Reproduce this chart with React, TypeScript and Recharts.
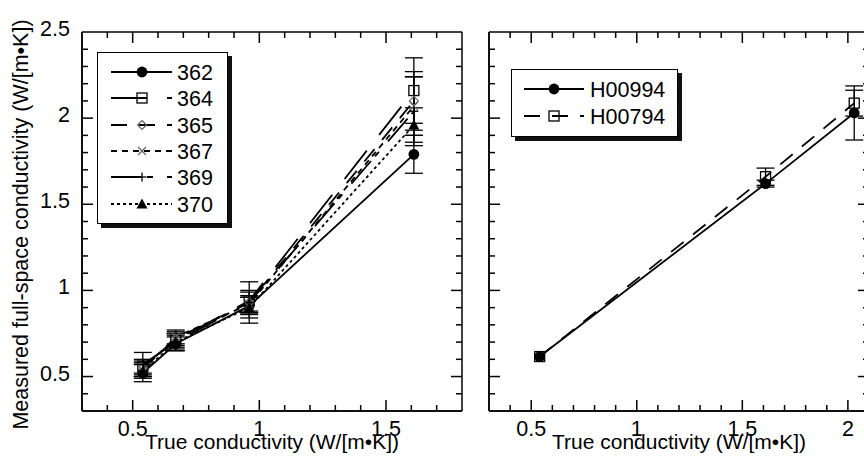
import React from 'react';
import { LineChart, Line, XAxis, YAxis, ErrorBar, Legend, ReferenceLine } from 'recharts';

const FONT = '"Liberation Sans", Arial, Helvetica, sans-serif';

// ---------- Panel A data ----------
const trueA = [0.54, 0.67, 0.96, 1.61];
const names = ['362', '364', '365', '367', '369', '370'];
const v362 = [0.52, 0.69, 0.91, 1.79];
const e362 = [0.05, 0.04, 0.05, 0.11];
const v364 = [0.56, 0.71, 0.94, 2.16];
const e364 = [0.04, 0.04, 0.06, 0.19];
const v365 = [0.55, 0.72, 0.93, 2.1];
const e365 = [0.04, 0.04, 0.06, 0.17];
const v367 = [0.54, 0.73, 0.92, 2.07];
const e367 = [0.04, 0.04, 0.05, 0.17];
const v369 = [0.57, 0.7, 0.93, 2.04];
const e369 = [0.07, 0.05, 0.12, 0.2];
const v370 = [0.53, 0.7, 0.9, 1.96];
const e370 = [0.04, 0.04, 0.06, 0.1];

// ---------- Panel B data ----------
const trueB = [0.54, 1.61, 2.03];
const namesB = ['H00994', 'H00794'];
const vH00994 = [0.616, 1.62, 2.03];
const eH00994 = [0, 0.02, 0.157];
const vH00794 = [0.616, 1.66, 2.087];
const eH00794 = [0, 0.05, 0.075];

// ---------- ticks ----------
const xTicksA = [0.4, 0.5, 0.6, 0.7, 0.8, 0.9, 1, 1.1, 1.2, 1.3, 1.4, 1.5, 1.6, 1.7];
const xTicksB = [0.4, 0.5, 0.6, 0.7, 0.8, 0.9, 1, 1.1, 1.2, 1.3, 1.4, 1.5, 1.6, 1.7, 1.8, 1.9, 2];
const yTicks = [0.4, 0.5, 0.6, 0.7, 0.8, 0.9, 1, 1.1, 1.2, 1.3, 1.4, 1.5, 1.6, 1.7, 1.8, 1.9, 2, 2.1, 2.2, 2.3, 2.4, 2.5];
const xDomainA = [0.3, 1.8];
const xDomainB = [0.3, 2.1];
const yDomain = [0.3, 2.5];

const xTitle = 'True conductivity (W/[m•K])';
const yTitle = 'Measured full-space conductivity (W/[m•K])';

type Kind = 'circle' | 'square' | 'diamond' | 'x' | 'plus' | 'triangle';

const build = (xs: number[], ys: number[], es: number[]) => xs.map((x, i) => ({ x, y: ys[i], err: es[i] }));

const seriesA: { name: string; data: any[]; dash?: string; kind: Kind }[] = [
  { name: names[0], data: build(trueA, v362, e362), dash: undefined, kind: 'circle' },
  { name: names[1], data: build(trueA, v364, e364), dash: '36 20', kind: 'square' },
  { name: names[2], data: build(trueA, v365, e365), dash: '16 12', kind: 'diamond' },
  { name: names[3], data: build(trueA, v367, e367), dash: '6 5', kind: 'x' },
  { name: names[4], data: build(trueA, v369, e369), dash: '30 6 6 14', kind: 'plus' },
  { name: names[5], data: build(trueA, v370, e370), dash: '3 3', kind: 'triangle' },
];

const seriesB: { name: string; data: any[]; dash?: string; kind: Kind }[] = [
  { name: namesB[0], data: build(trueB, vH00994, eH00994), dash: undefined, kind: 'circle' },
  { name: namesB[1], data: build(trueB, vH00794, eH00794), dash: '16 12', kind: 'square' },
];

function Marker({ kind, cx, cy }: { kind: Kind; cx: number; cy: number }) {
  if (cx == null || cy == null || isNaN(cx) || isNaN(cy)) return null;
  switch (kind) {
    case 'circle':
      return <circle cx={cx} cy={cy} r={5.4} fill="#000" />;
    case 'square':
      return <rect x={cx - 5} y={cy - 5} width={10} height={10} fill="none" stroke="#000" strokeWidth={1.3} />;
    case 'diamond':
      return (
        <path
          d={`M${cx},${cy - 4.5}L${cx + 4.5},${cy}L${cx},${cy + 4.5}L${cx - 4.5},${cy}Z`}
          fill="none"
          stroke="#666"
          strokeWidth={1.2}
        />
      );
    case 'x':
      return (
        <g>
          <line x1={cx - 4} y1={cy - 4} x2={cx + 4} y2={cy + 4} stroke="#666" strokeWidth={1.2} />
          <line x1={cx - 4} y1={cy + 4} x2={cx + 4} y2={cy - 4} stroke="#666" strokeWidth={1.2} />
        </g>
      );
    case 'plus':
      return (
        <g>
          <line x1={cx - 4.5} y1={cy} x2={cx + 4.5} y2={cy} stroke="#000" strokeWidth={1.3} />
          <line x1={cx} y1={cy - 4.5} x2={cx} y2={cy + 4.5} stroke="#000" strokeWidth={1.3} />
        </g>
      );
    case 'triangle':
      return <path d={`M${cx},${cy - 5.5}L${cx + 5.5},${cy + 4.5}L${cx - 5.5},${cy + 4.5}Z`} fill="#000" />;
  }
  return null;
}

const isMajor = (v: number) => Math.abs(v * 2 - Math.round(v * 2)) < 1e-6;
const fmt = (v: number) => (Math.abs(v - Math.round(v)) < 1e-6 ? String(Math.round(v)) : String(v));

const MINOR = 6;
const MAJOR = 11;
const TOP = 32;
const BOTTOM_H = 49;
const CH = 460;

const makeTick = (side: 'bottom' | 'left', labels: boolean) => (props: any) => {
  const x = Number(props.x);
  const y = Number(props.y);
  const v = Number(props.payload?.value);
  if (!labels || !isMajor(v)) return <g />;
  if (side === 'bottom')
    return (
      <text x={x} y={y + 25} textAnchor="middle" fontSize={21.5} fontFamily={FONT} fill="#000" stroke="none">
        {fmt(v)}
      </text>
    );
  return (
    <text x={x - 12} y={y + 4} textAnchor="end" fontSize={21.5} fontFamily={FONT} fill="#000" stroke="none">
      {fmt(v)}
    </text>
  );
};

const axisLine = { stroke: '#000', strokeWidth: 1.5 };

function LegendBox({ items, width, height, rows, x0, x1, xm, xt }: any) {
  return (
    <div
      style={{
        width,
        height,
        boxSizing: 'border-box',
        border: '1.5px solid #000',
        background: '#fff',
        boxShadow: '4px 4px 0 #111',
      }}
    >
      <svg width={width - 3} height={height - 3} style={{ display: 'block' }}>
        {items.map((s: any, i: number) => {
          const cy = rows[i];
          return (
            <g key={s.name}>
              <line x1={x0} y1={cy} x2={x1} y2={cy} stroke="#000" strokeWidth={1.8} strokeDasharray={s.dash} />
              <Marker kind={s.kind} cx={xm} cy={cy} />
              <text x={xt} y={cy + 7.5} fontSize={21.5} fontFamily={FONT} fill="#000">
                {s.name}
              </text>
            </g>
          );
        })}
      </svg>
    </div>
  );
}

function Panel({
  series,
  xDomain,
  xTicks,
  width,
  leftWidth,
  rightMargin,
  letter,
  showYLabels,
  legend,
}: any) {
  const [x0, x1] = xDomain;
  const [y0, y1] = yDomain;
  const tickSeries = [
    { k: 'tb', dir: [0, -1], data: xTicks.map((v: number) => ({ x: v, y: y0, v })) },
    { k: 'tt', dir: [0, 1], data: xTicks.map((v: number) => ({ x: v, y: y1, v })) },
    { k: 'tl', dir: [1, 0], data: yTicks.filter((v) => v < y1).map((v) => ({ x: x0, y: v, v })) },
    { k: 'tr', dir: [-1, 0], data: yTicks.filter((v) => v < y1).map((v) => ({ x: x1, y: v, v })) },
  ];
  return (
    <LineChart width={width} height={CH} margin={{ top: TOP, right: rightMargin, bottom: 0, left: 0 }}>
      <XAxis
        xAxisId="b"
        type="number"
        dataKey="x"
        domain={xDomain}
        allowDataOverflow
        ticks={xTicks}
        interval={0}
        tickSize={0}
        tickMargin={0}
        tickLine={false}
        axisLine={axisLine}
        tick={makeTick('bottom', true)}
        height={BOTTOM_H}
        label={(p: any) => {
          const vb = p.viewBox || {};
          return (
            <text x={vb.x + vb.width / 2} y={vb.y + 38} textAnchor="middle" fontSize={21} fontFamily={FONT} fill="#000">
              {xTitle}
            </text>
          );
        }}
      />
      <XAxis
        xAxisId="t"
        orientation="top"
        type="number"
        dataKey="x"
        domain={xDomain}
        allowDataOverflow
        ticks={xTicks}
        interval={0}
        tickSize={0}
        tickMargin={0}
        tickLine={false}
        axisLine={axisLine}
        tick={false}
        height={0}
        label={(p: any) => {
          const vb = p.viewBox || {};
          return (
            <text x={vb.x} y={vb.y + vb.height - 6} fontSize={12} fontWeight="bold" fontFamily={FONT} fill="#000">
              {letter}
            </text>
          );
        }}
      />
      <YAxis
        yAxisId="l"
        type="number"
        domain={yDomain}
        allowDataOverflow
        ticks={yTicks}
        interval={0}
        tickSize={0}
        tickMargin={0}
        tickLine={false}
        axisLine={axisLine}
        tick={makeTick('left', showYLabels)}
        width={leftWidth}
        label={
          showYLabels
            ? (p: any) => {
                const vb = p.viewBox || {};
                const cx = vb.x + 21;
                const cy = vb.y + vb.height / 2 + 3;
                return (
                  <text
                    x={cx}
                    y={cy}
                    transform={`rotate(-90 ${cx} ${cy})`}
                    textAnchor="middle"
                    dominantBaseline="central"
                    fontSize={21.5}
                    fontFamily={FONT}
                    fill="#000"
                  >
                    {yTitle}
                  </text>
                );
              }
            : undefined
        }
      />
      <YAxis
        yAxisId="r"
        orientation="right"
        type="number"
        domain={yDomain}
        allowDataOverflow
        ticks={yTicks}
        interval={0}
        tickSize={0}
        tickMargin={0}
        tickLine={false}
        axisLine={axisLine}
        tick={false}
        width={0}
      />
      <ReferenceLine xAxisId="b" yAxisId="l" y={y1} stroke="#000" strokeWidth={1.5} ifOverflow="visible" />
      <ReferenceLine xAxisId="b" yAxisId="l" x={x1} stroke="#000" strokeWidth={1.5} ifOverflow="visible" />
      <ReferenceLine xAxisId="b" yAxisId="l" y={y0} stroke="#000" strokeWidth={1.5} ifOverflow="visible" />
      <ReferenceLine xAxisId="b" yAxisId="l" x={x0} stroke="#000" strokeWidth={1.5} ifOverflow="visible" />
      <Legend
        layout="horizontal"
        align="center"
        verticalAlign="middle"
        wrapperStyle={{ position: 'absolute', left: legend.left, top: legend.top, width: legend.width, height: legend.height }}
        content={() => <LegendBox items={series} {...legend} />}
      />
      {tickSeries.map((ts) => (
        <Line
          key={ts.k}
          data={ts.data}
          dataKey="y"
          xAxisId="b"
          yAxisId="l"
          type="linear"
          stroke="none"
          legendType="none"
          isAnimationActive={false}
          activeDot={false}
          dot={(p: any) => {
            const L = isMajor(Number(p.payload?.v)) ? MAJOR : MINOR;
            return (
              <line
                key={`${ts.k}-${p.index}`}
                x1={p.cx}
                y1={p.cy}
                x2={p.cx + ts.dir[0] * L}
                y2={p.cy + ts.dir[1] * L}
                stroke="#000"
                strokeWidth={1.5}
              />
            );
          }}
        />
      ))}
      {series.map((s: any) => (
        <Line
          key={s.name}
          name={s.name}
          data={s.data}
          dataKey="y"
          xAxisId="b"
          yAxisId="l"
          type="linear"
          stroke="#000"
          strokeWidth={1.8}
          strokeDasharray={s.dash}
          isAnimationActive={false}
          activeDot={false}
          dot={(p: any) => (
            <g key={`${s.name}-${p.index}`}>
              <Marker kind={s.kind} cx={p.cx} cy={p.cy} />
            </g>
          )}
        >
          <ErrorBar dataKey="err" direction="y" width={9} stroke="#000" strokeWidth={1.3} isAnimationActive={false} />
        </Line>
      ))}
    </LineChart>
  );
}

export default function App() {
  return (
    <div
      style={{
        position: 'absolute',
        left: 0,
        top: 0,
        width: 864,
        height: 460,
        overflow: 'hidden',
        background: '#fff',
        fontFamily: FONT,
      }}
    >
      <div style={{ position: 'absolute', left: 0, top: 0 }}>
        <Panel
          series={seriesA}
          xDomain={xDomainA}
          xTicks={xTicksA}
          width={475}
          leftWidth={82}
          rightMargin={13}
          letter="A"
          showYLabels={true}
          legend={{
            left: 97,
            top: 52,
            width: 131,
            height: 172,
            rows: [19, 45, 72, 98, 124, 151],
            x0: 13,
            x1: 74,
            xm: 44,
            xt: 79,
          }}
        />
      </div>
      <div style={{ position: 'absolute', left: 470, top: 0 }}>
        <Panel
          series={seriesB}
          xDomain={xDomainB}
          xTicks={xTicksB}
          width={420}
          leftWidth={19}
          rightMargin={21}
          letter="B"
          showYLabels={false}
          legend={{
            left: 41,
            top: 69,
            width: 167,
            height: 68,
            rows: [19, 46],
            x0: 12,
            x1: 72,
            xm: 42,
            xt: 78,
          }}
        />
      </div>
    </div>
  );
}
